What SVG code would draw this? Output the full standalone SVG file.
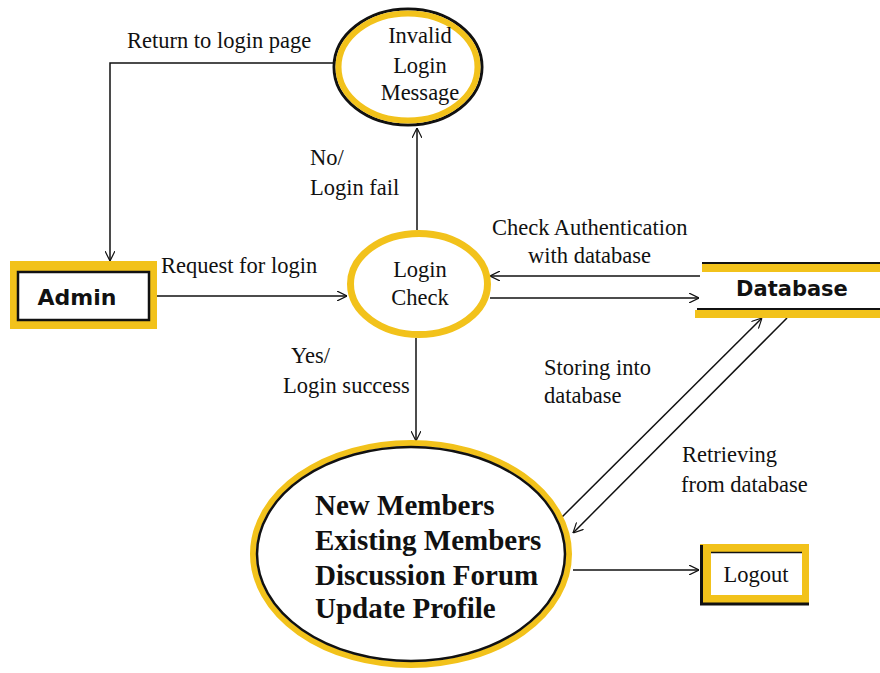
<svg xmlns="http://www.w3.org/2000/svg" width="880" height="673" viewBox="0 0 880 673">
<style>
.lbl{font-family:"Liberation Serif","Times New Roman",serif;font-size:22.5px;fill:#111}
.sans{font-family:"DejaVu Sans",Verdana,sans-serif;font-weight:bold;fill:#111}
.big{font-family:"Liberation Serif","Times New Roman",serif;font-weight:bold;font-size:29px;fill:#111}
.ln{stroke:#111;stroke-width:1.5;fill:none}
.y{stroke:#f2c21b}
</style>
<defs>
<marker id="ah" viewBox="0 0 10 10" refX="10" refY="5" markerWidth="10" markerHeight="10" markerUnits="userSpaceOnUse" orient="auto">
<path d="M0,0 L10,5 L0,10" fill="none" stroke="#111" stroke-width="1.2"/>
</marker>
</defs>
<rect width="880" height="673" fill="#fff"/>

<g id="connectors">
<path class="ln" d="M333,63 H110 V261" marker-end="url(#ah)"/>
<line class="ln" x1="157" y1="296" x2="347" y2="296" marker-end="url(#ah)"/>
<line class="ln" x1="417" y1="230" x2="417" y2="128" marker-end="url(#ah)"/>
<line class="ln" x1="416" y1="338" x2="416" y2="441" marker-end="url(#ah)"/>
<line class="ln" x1="700" y1="276" x2="490" y2="276" marker-end="url(#ah)"/>
<line class="ln" x1="490" y1="298" x2="699" y2="298" marker-end="url(#ah)"/>
<line class="ln" x1="562" y1="517" x2="762" y2="318" marker-end="url(#ah)"/>
<line class="ln" x1="787" y1="318" x2="573" y2="533" marker-end="url(#ah)"/>
<line class="ln" x1="573" y1="570" x2="699" y2="570" marker-end="url(#ah)"/>
<text class="lbl" x="127" y="48">Return to login page</text>
<text class="lbl" x="161" y="273">Request for login</text>
<text class="lbl" x="310" y="165">No/</text>
<text class="lbl" x="310" y="195">Login fail</text>
<text class="lbl" x="291" y="363">Yes/</text>
<text class="lbl" x="283" y="393">Login success</text>
<text class="lbl" x="492" y="235">Check Authentication</text>
<text class="lbl" x="528" y="263">with database</text>
<text class="lbl" x="544" y="375">Storing into</text>
<text class="lbl" x="544" y="403">database</text>
<text class="lbl" x="682" y="462">Retrieving</text>
<text class="lbl" x="681" y="492">from database</text>
</g>

<g id="invalid">
<ellipse cx="408" cy="67" rx="74" ry="58" fill="#fff" stroke="#111" stroke-width="3"/>
<ellipse cx="408" cy="67" rx="69.5" ry="53.5" fill="#fff" class="y" stroke-width="6"/>
<text class="lbl" x="420" y="43" text-anchor="middle">Invalid</text>
<text class="lbl" x="420" y="73" text-anchor="middle">Login</text>
<text class="lbl" x="420" y="100" text-anchor="middle">Message</text>
</g>

<g id="admin">
<rect x="10" y="261" width="147" height="68" fill="#f2c21b"/>
<rect x="18" y="272" width="131" height="48" fill="#fff" stroke="#111" stroke-width="2.5"/>
<text class="sans" x="77" y="305" font-size="22" text-anchor="middle">Admin</text>
</g>

<g id="login-check">
<ellipse cx="419" cy="284" rx="68.5" ry="50.5" fill="#fff" class="y" stroke-width="7"/>
<text class="lbl" x="420" y="277" text-anchor="middle">Login</text>
<text class="lbl" x="420" y="305" text-anchor="middle">Check</text>
</g>

<g id="database">
<rect x="702" y="263" width="178" height="9" fill="#f2c21b"/>
<line x1="702" y1="263" x2="880" y2="263" stroke="#111" stroke-width="2"/>
<rect x="695" y="310" width="185" height="8" fill="#f2c21b"/>
<line x1="697" y1="309" x2="880" y2="309" stroke="#111" stroke-width="2"/>
<text class="sans" x="792" y="296" font-size="21" text-anchor="middle">Database</text>
</g>

<g id="members">
<ellipse cx="411" cy="554" rx="158" ry="111" fill="#fff" class="y" stroke="#f2c21b" stroke-width="6"/>
<ellipse cx="411" cy="554" rx="154" ry="107" fill="none" stroke="#111" stroke-width="2.5"/>
<text class="big" x="315" y="515">New Members</text>
<text class="big" x="315" y="550">Existing Members</text>
<text class="big" x="315" y="585">Discussion Forum</text>
<text class="big" x="315" y="618">Update Profile</text>
</g>

<g id="logout">
<rect x="700" y="544" width="109" height="61" fill="#f2c21b"/>
<rect x="711" y="553" width="91" height="42" fill="#fff"/>
<line x1="711" y1="552.5" x2="802" y2="552.5" stroke="#111" stroke-width="1.5"/>
<path d="M701.5,545 V604 H809" fill="none" stroke="#111" stroke-width="3"/>
<text class="lbl" x="756" y="582" text-anchor="middle">Logout</text>
</g>
</svg>
